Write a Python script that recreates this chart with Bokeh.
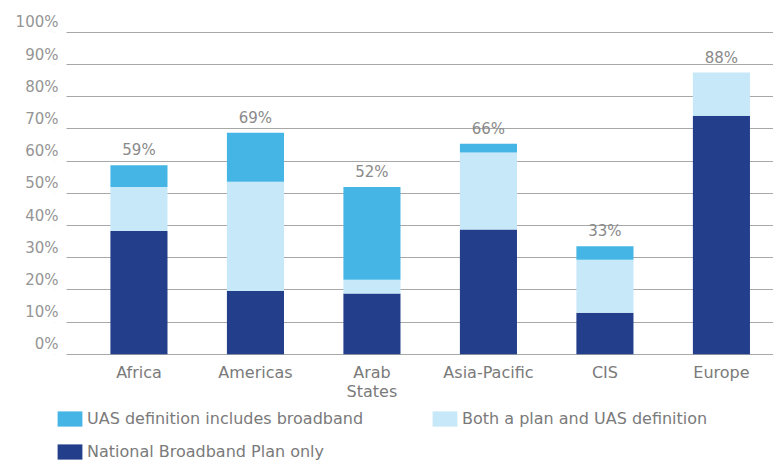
from bokeh.plotting import figure
from bokeh.models import (ColumnDataSource, Range1d, LinearAxis, FixedTicker,
                          Grid, Legend, LegendItem, BoxAnnotation)
from bokeh.embed import file_html
from bokeh.resources import INLINE
from bokeh.core.properties import value

# ---- data ----
categories = ["Africa", "Americas", "Arab\nStates", "Asia-Pacific", "CIS", "Europe"]
national_plan_only = [38.3, 19.7, 18.9, 38.8, 12.9, 74.1]
plan_and_uas = [13.7, 33.9, 4.3, 23.9, 16.5, 13.4]
uas_includes_broadband = [6.7, 15.2, 28.8, 2.7, 4.2, 0.0]
totals = [59, 69, 52, 66, 33, 88]
y_ticks = [0, 10, 20, 30, 40, 50, 60, 70, 80, 90, 100]
series_labels = ["National Broadband Plan only",
                 "Both a plan and UAS definition",
                 "UAS definition includes broadband"]

# ---- styling ----
FONT = "DejaVu Sans"
C_DARK = "#233f8b"
C_LIGHT = "#c6e8f8"
C_MID = "#45b5e5"
GRID_C = "#a8a8a8"
TICK_C = "#959595"
TEXT_C = "#7a7a7a"

xs = list(range(len(categories)))
tops = [a + b + c for a, b, c in zip(national_plan_only, plan_and_uas, uas_includes_broadband)]
src = ColumnDataSource(dict(
    x=xs,
    cat=categories,
    base=[0] * len(categories),
    national=national_plan_only,
    both=plan_and_uas,
    uas=uas_includes_broadband,
    top=tops,
    label=[f"{t}%" for t in totals],
))

# layout constants
X0, X1 = -0.725, 5.447          # frame spans page x 54..773
GRID_START = -0.622             # gridlines begin at page x 66
Y0, Y1 = -33.6, 104
label_shift = 3.1               # y-labels sit slightly above their gridlines

p = figure(width=773, height=462,
           x_range=Range1d(X0, X1), y_range=Range1d(Y0, Y1),
           x_axis_location=None, y_axis_location=None,
           toolbar_location=None, output_backend="svg")
p.center = []  # drop default grids
p.min_border = 0
p.min_border_left = 54
p.min_border_top = 19
p.min_border_bottom = 0
p.min_border_right = 0
p.outline_line_color = None
p.background_fill_color = "white"
p.border_fill_color = "white"

p.extra_y_ranges = {"lbl": Range1d(Y0 - label_shift, Y1 - label_shift)}

# gridlines
p.add_layout(Grid(dimension=1, ticker=FixedTicker(ticks=y_ticks),
                  grid_line_color=GRID_C, grid_line_width=1.2))
# keep the left strip of the frame clear of gridlines (room for the legend swatches)
p.add_layout(BoxAnnotation(left=X0, right=GRID_START, fill_color="white",
                           fill_alpha=1.0, line_color=None, level="underlay"))

# y axis labels
yax = LinearAxis(y_range_name="lbl", ticker=FixedTicker(ticks=y_ticks))
yax.major_label_overrides = {t: f"{t}%" for t in y_ticks}
yax.axis_line_color = None
yax.major_tick_line_color = None
yax.minor_tick_line_color = None
yax.major_tick_out = 0
yax.major_tick_in = 0
yax.major_label_standoff = -4
yax.major_label_text_font = FONT
yax.major_label_text_font_size = "15px"
yax.major_label_text_color = TICK_C
p.add_layout(yax, "left")

# stacked bars
rs = p.vbar_stack(["national", "both", "uas"], x="x", width=0.49, source=src,
                  color=[C_DARK, C_LIGHT, C_MID], line_color=None)

# total labels
p.text(x="x", y="top", text="label", source=src,
       text_align="center", text_baseline="alphabetic", y_offset=-15,
       text_font=value(FONT), text_font_size="15px", text_color="#8a8a8a")

# category labels under the bars
p.text(x="x", y="base", text="cat", source=src,
       text_align="center", text_baseline="top", y_offset=9,
       text_line_height=0.97,
       text_font=value(FONT), text_font_size="16px", text_color=TEXT_C)

legend = Legend(items=[
    LegendItem(label=series_labels[2], renderers=[rs[2]]),
    LegendItem(label=series_labels[1], renderers=[rs[1]]),
    LegendItem(label=series_labels[0], renderers=[rs[0]]),
], location=(0, 1), orientation="horizontal", ncols=2,
    glyph_width=31, glyph_height=19, label_standoff=2, label_width=329,
    label_height=20, spacing=13, padding=0, margin=0,
    border_line_alpha=0, background_fill_alpha=0,
    label_text_font=FONT, label_text_font_size="16px", label_text_color=TEXT_C)
p.add_layout(legend)

open("out.html", "w").write(file_html(p, INLINE))
